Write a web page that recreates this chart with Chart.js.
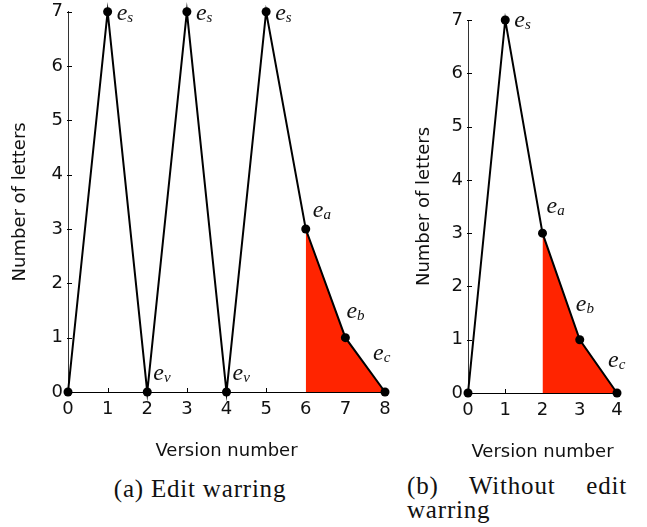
<!DOCTYPE html>
<html>
<head>
<meta charset="utf-8">
<script src="https://cdn.jsdelivr.net/npm/chart.js@4.4.0/dist/chart.umd.min.js"></script>
<style>
  body { margin: 0; background: #fff; width: 647px; height: 527px; position: relative; overflow: hidden; }
  canvas { position: absolute; top: 0; }
  .cap { position: absolute; font-family: "Liberation Serif", serif; font-size: 25px; color: #111; letter-spacing: 0.8px; }
</style>
</head>
<body>
<canvas id="chartA" width="400" height="470" style="left:0"></canvas>
<canvas id="chartB" width="240" height="470" style="left:400px"></canvas>
<div class="cap" style="left:100px; top:475px; width:200px; text-align:center">(a) Edit warring</div>
<div class="cap" style="left:407px; top:474px; width:220px; text-align:justify; line-height:24px">(b) Without edit warring</div>
<script>
// (a) edit warring
const versionsA = [0, 1, 2, 3, 4, 5, 6, 7, 8];
const lettersA = [0, 7, 0, 7, 0, 7, 3, 1, 0];
const namesA = ['', 'es', 'ev', 'es', 'ev', 'es', 'ea', 'eb', 'ec'];
const shadeFromA = 6;

// (b) without edit warring
const versionsB = [0, 1, 2, 3, 4];
const lettersB = [0, 7, 3, 1, 0];
const namesB = ['', 'es', 'ea', 'eb', 'ec'];
const shadeFromB = 2;

const yMax = 7;
const RED = '#ff2400';

// inward tick marks + e_x point names
const annotate = {
  id: 'annotate',
  beforeDatasetsDraw(chart) {
    const { ctx, scales: { x, y } } = chart;
    ctx.save();
    ctx.strokeStyle = '#000';
    ctx.lineWidth = 1;
    x.ticks.forEach(t => {
      const px = Math.round(x.getPixelForValue(t.value)) + 0.5;
      ctx.beginPath(); ctx.moveTo(px, y.bottom); ctx.lineTo(px, y.bottom - 4); ctx.stroke();
    });
    y.ticks.forEach(t => {
      const py = Math.round(y.getPixelForValue(t.value)) + 0.5;
      ctx.beginPath(); ctx.moveTo(x.left - 1, py); ctx.lineTo(x.left + 4, py); ctx.stroke();
    });
    ctx.restore();
  },
  afterDatasetsDraw(chart, args, opts) {
    const { ctx } = chart;
    const meta = chart.getDatasetMeta(1);
    ctx.save();
    ctx.fillStyle = '#111';
    ctx.textBaseline = 'alphabetic';
    opts.names.forEach((name, i) => {
      if (!name) return;
      const pt = meta.data[i];
      const [dx, dy] = opts.offsets[name];
      const bx = pt.x + dx, by = pt.y + dy;
      ctx.font = 'italic 24px "Liberation Serif", serif';
      ctx.fillText(name[0], bx, by);
      const w = ctx.measureText(name[0]).width;
      ctx.font = 'italic 15px "Liberation Serif", serif';
      ctx.fillText(name.slice(1), bx + w, by + 2);
    });
    ctx.restore();
  }
};

function makeChart(id, versions, letters, names, shadeFrom, padding, yTitlePad, offsets) {
  const pts = versions.map((v, i) => ({ x: v, y: letters[i] }));
  return new Chart(document.getElementById(id), {
    type: 'line',
    data: {
      datasets: [
        {
          data: pts.filter(p => p.x >= shadeFrom),
          fill: 'origin',
          backgroundColor: RED,
          borderWidth: 0,
          pointRadius: 0,
          order: 2
        },
        {
          data: pts,
          borderColor: '#000',
          borderWidth: 2,
          pointRadius: 4.5,
          pointBackgroundColor: '#000',
          pointBorderWidth: 0,
          tension: 0,
          clip: false,
          order: 1
        }
      ]
    },
    options: {
      responsive: false,
      animation: false,
      events: [],
      layout: { padding },
      plugins: {
        legend: { display: false },
        tooltip: { enabled: false },
        annotate: { names, offsets }
      },
      scales: {
        x: {
          type: 'linear',
          min: versions[0],
          max: versions[versions.length - 1],
          afterFit: s => { s.height = 70; },
          grid: { display: false, drawTicks: false },
          border: { display: true, color: '#000', width: 1 },
          ticks: { stepSize: 1, padding: 7, color: '#111', font: { family: 'DejaVu Sans', size: 18 } },
          title: { display: true, text: 'Version number', color: '#111', font: { family: 'DejaVu Sans', size: 18 }, padding: { top: 0, bottom: 0 } }
        },
        y: {
          min: 0,
          max: yMax,
          afterFit: s => { s.width = 68; },
          grid: { display: false, drawTicks: false },
          border: { display: true, color: '#333', width: 1 },
          ticks: { stepSize: 1, padding: 5, color: '#111', font: { family: 'DejaVu Sans', size: 18, lineHeight: 0.75 } },
          title: { display: true, text: 'Number of letters', color: '#111', font: { family: 'DejaVu Sans', size: 18 }, padding: { top: yTitlePad, bottom: 0 } }
        }
      }
    },
    plugins: [annotate]
  });
}

makeChart('chartA', versionsA, lettersA, namesA, shadeFromA,
  { left: 0, right: 15, top: 7, bottom: 8 }, 10,
  { es: [9, 8], ev: [6, -12], ea: [7, -12], eb: [1, -20], ec: [-12, -32] });
makeChart('chartB', versionsB, lettersB, namesB, shadeFromB,
  { left: 0, right: 23, top: 20, bottom: 7 }, 14,
  { es: [9, 7], ea: [4, -20], eb: [-4, -29], ec: [-9, -26] });
</script>
</body>
</html>
